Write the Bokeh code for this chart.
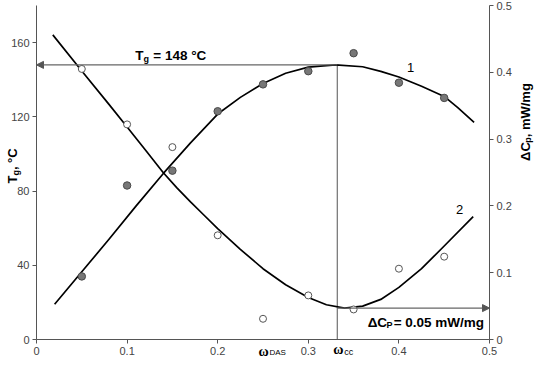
import math
from bokeh.plotting import figure
from bokeh.models import (Range1d, LinearAxis, FixedTicker, CustomJSTickFormatter,
                          Label, Arrow, NormalHead)
from bokeh.embed import file_html
from bokeh.resources import INLINE

# ---- data ----
w_pts = [0.05, 0.10, 0.15, 0.20, 0.25, 0.30, 0.35, 0.40, 0.45]
tg_pts = [34, 83, 91, 123, 137.5, 144.6, 154.3, 138.4, 130.2]
dcp_pts = [0.405, 0.322, 0.288, 0.156, 0.031, 0.066, 0.045, 0.106, 0.124]

curve1_x = [0.02, 0.05, 0.08, 0.11, 0.14, 0.17, 0.20, 0.225, 0.25, 0.275, 0.30,
            0.33, 0.36, 0.38, 0.40, 0.425, 0.45, 0.465, 0.483]
curve1_y = [19, 36.5, 54, 72, 89.5, 106, 121.5, 130.5, 138, 143.5, 146.8,
            148, 147, 144.5, 141.5, 136.5, 131, 125, 117]

curve2_x = [0.018, 0.05, 0.08, 0.10, 0.12, 0.14, 0.155, 0.17, 0.185, 0.20, 0.225, 0.25,
            0.275, 0.30, 0.32, 0.34, 0.36, 0.38, 0.40, 0.425, 0.45, 0.482]
curve2_y = [0.456, 0.402, 0.352, 0.318, 0.284, 0.2496, 0.227, 0.206, 0.186, 0.166, 0.135,
            0.106, 0.082, 0.063, 0.052, 0.047, 0.050, 0.060, 0.078, 0.106, 0.140, 0.184]

w_cc = 0.332
tg_max = 148
dcp_min = 0.047

x_ticks = [0, 0.1, 0.2, 0.3, 0.4, 0.5]
left_ticks = [0, 40, 80, 120, 160]
right_ticks = [0, 0.1, 0.2, 0.3, 0.4, 0.5]

# ---- layout ----
W, H = 534, 358
X0, X1 = 0.0, 0.5          # x axis extent
Y0, Y1 = 0.0, 180.0        # left axis extent
R0, R1 = 0.0, 0.5          # right axis extent
PX_LEFT, PX_RIGHT = 36, 489   # figure px of x=0 and x=0.5
PX_TOP, PX_BOT = 5, 339       # figure px of y=180 and y=0

sx = (PX_RIGHT - PX_LEFT) / (X1 - X0)
sy = (PX_BOT - PX_TOP) / (Y1 - Y0)
x_start = X0 - PX_LEFT / sx
x_end = X1 + (W - PX_RIGHT) / sx
y_start = Y0 - (H - PX_BOT) / sy
y_end = Y1 + PX_TOP / sy
k = (R1 - R0) / (Y1 - Y0)

AX = "#555555"
TXT = "#444444"
SANS = "Liberation Sans"

p = figure(width=W, height=H, output_backend="svg", toolbar_location=None,
           x_range=Range1d(x_start, x_end), y_range=Range1d(y_start, y_end),
           min_border=0, min_border_left=0, min_border_right=0,
           min_border_top=0, min_border_bottom=0)
p.extra_y_ranges = {"dcp": Range1d(y_start * k, y_end * k)}
p.outline_line_color = None
p.xgrid.grid_line_color = None
p.ygrid.grid_line_color = None

fmt_code = "return (Math.round(tick*10)/10).toString();"
p.xaxis.ticker = FixedTicker(ticks=x_ticks)
p.xaxis.formatter = CustomJSTickFormatter(code=fmt_code)
p.xaxis.fixed_location = Y0
p.xaxis.bounds = (X0, X1)

p.yaxis.ticker = FixedTicker(ticks=left_ticks)
p.yaxis.fixed_location = X0
p.yaxis.bounds = (Y0, Y1)

raxis = LinearAxis(y_range_name="dcp", ticker=FixedTicker(ticks=right_ticks),
                   formatter=CustomJSTickFormatter(code=fmt_code),
                   fixed_location=X1, bounds=(R0, R1))
p.add_layout(raxis, "right")

for ax in [p.xaxis[0], p.yaxis[0], raxis]:
    ax.axis_line_color = AX
    ax.major_tick_line_color = AX
    ax.minor_tick_line_color = None
    ax.major_tick_out = 4
    ax.major_tick_in = 0
    ax.major_label_text_font = SANS
    ax.major_label_text_font_size = "11px"
    ax.major_label_text_color = TXT
    ax.major_label_standoff = 3

# reference lines / arrows
p.segment(x0=[w_cc], y0=[0], x1=[w_cc], y1=[tg_max], line_color="#707070", line_width=1.2)
p.add_layout(Arrow(end=NormalHead(size=7, fill_color="#555555", line_color="#555555"),
                   x_start=w_cc, y_start=tg_max, x_end=X0, y_end=tg_max,
                   line_color="#666666", line_width=1.2))
p.add_layout(Arrow(end=NormalHead(size=7, fill_color="#555555", line_color="#555555"),
                   x_start=w_cc, y_start=dcp_min, x_end=X1, y_end=dcp_min,
                   line_color="#666666", line_width=1.2, y_range_name="dcp"))

# curves
p.line(curve1_x, curve1_y, line_color="black", line_width=1.7, line_join="round")
p.line(curve2_x, curve2_y, line_color="black", line_width=1.7, line_join="round",
       y_range_name="dcp")

# points
p.scatter(w_pts, tg_pts, size=7.5, fill_color="#777777", line_color="#4a4a4a", line_width=1)
p.scatter(w_pts, dcp_pts, size=7, fill_color="white", line_color="#555555", line_width=1,
          y_range_name="dcp")


def lab(x, y, text, xo=0, yo=0, size="13px", style="bold", font=SANS, angle=0,
        align="left", baseline="alphabetic", yr="default", color="black"):
    p.add_layout(Label(x=x, y=y, x_offset=xo, y_offset=yo, text=text, text_font_size=size,
                       text_font_style=style, text_font=font, angle=angle,
                       text_align=align, text_baseline=baseline, y_range_name=yr,
                       text_color=color))


A = math.pi / 2
ymid = (Y0 + Y1) / 2
# left axis title: T_g, °C (rotated)
lab(X0, ymid, "T", xo=-24, yo=-11, angle=A)
lab(X0, ymid, "g", xo=-21, yo=-3.1, size="9px", angle=A)
lab(X0, ymid, ", °C", xo=-24, yo=2.4, angle=A)

# right axis title: ΔC_p, mW/mg (rotated)
lab(X1, ymid, "ΔC", xo=36, yo=11.6, angle=A)
lab(X1, ymid, "p", xo=38.5, yo=29.7, size="9px", angle=A)
lab(X1, ymid, ", mW/mg", xo=36, yo=35.2, angle=A)

# Tg annotation
lab(0.109, tg_max, "T", yo=9, size="13.5px")
lab(0.109, tg_max, "g", xo=8.3, yo=6, size="9px")
lab(0.109, tg_max, "= 148 °C", xo=18, yo=9, size="13.5px")

# ΔCp annotation
lab(0.3655, dcp_min, "ΔC", yo=-14, yr="dcp", size="13.5px")
lab(0.3655, dcp_min, "P", xo=18.8, yo=-17, size="9px", yr="dcp")
lab(0.3655, dcp_min, "= 0.05 mW/mg", xo=26, yo=-14, yr="dcp", size="13.5px")

# curve numbers
lab(0.413, 146.5, "1", size="13px", style="normal", align="center", baseline="middle")
lab(0.467, 0.194, "2", size="13px", style="normal", align="center", baseline="middle", yr="dcp")

# omega labels below the x axis
lab(0.25, Y0, "ω", xo=-4.5, yo=-11.5, size="14px", font="Liberation Serif")
lab(0.25, Y0, "DAS", xo=6.5, yo=-13, size="8px", style="normal")
lab(w_cc, Y0, "ω", xo=-4, yo=-10, size="14px", font="Liberation Serif")
lab(w_cc, Y0, "cc", xo=7, yo=-12.5, size="9px", style="normal")

open("out.html", "w").write(file_html(p, INLINE))
